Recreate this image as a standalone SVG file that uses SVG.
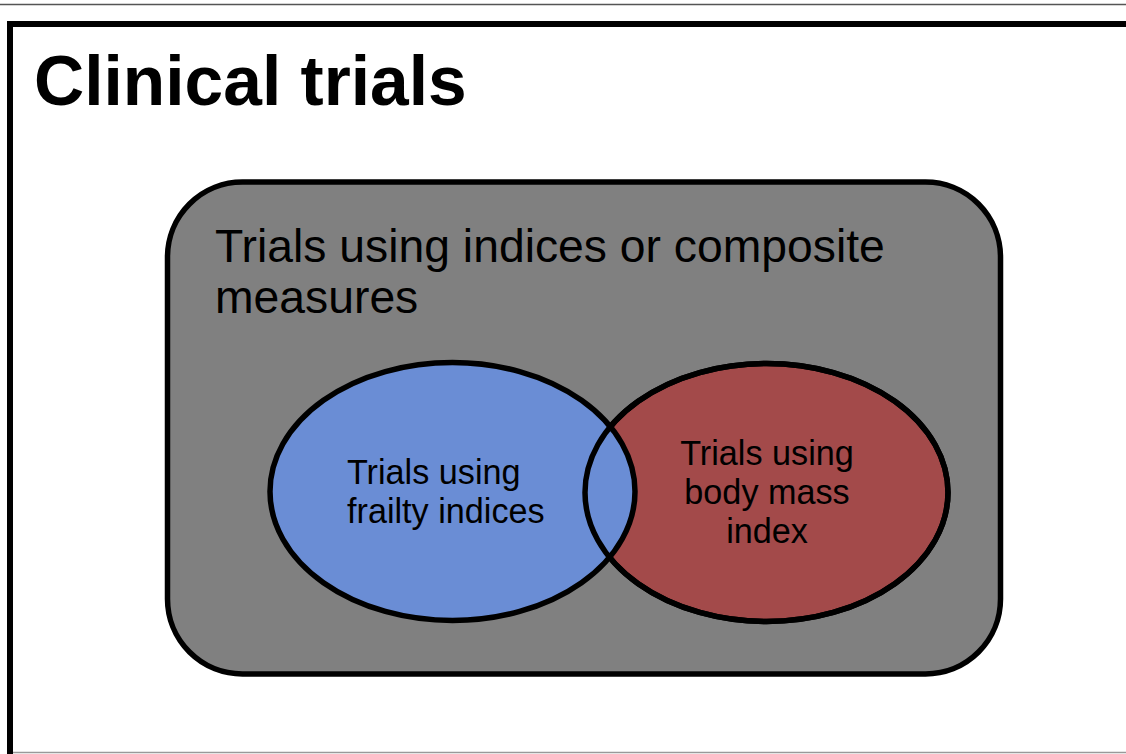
<svg xmlns="http://www.w3.org/2000/svg" width="1126" height="754" viewBox="0 0 1126 754">
  <style>
    .title { font-family: "Liberation Sans", Arial, sans-serif; font-weight: bold; font-size: 69.5px; fill: #000; }
    .label { font-family: "Liberation Sans", Arial, sans-serif; fill: #000; }
    .big { font-size: 46.3px; }
    .small { font-size: 34.2px; }
    .outline { stroke: #000; stroke-width: 5.5; }
  </style>
  <rect x="0" y="0" width="1126" height="754" fill="#fff"/>
  <!-- page rules -->
  <line x1="0" y1="4.5" x2="1126" y2="4.5" stroke="#555" stroke-width="1.3"/>
  <line x1="12" y1="752.5" x2="1126" y2="752.5" stroke="#999" stroke-width="1.6"/>
  <!-- outer frame -->
  <g id="frame">
    <path d="M10,754 V24 H1126" fill="none" stroke="#000" stroke-width="6"/>
    <text class="title" x="34" y="105">Clinical trials</text>
  </g>
  <!-- composite measures set -->
  <g id="composite">
    <rect x="167.5" y="182" width="833" height="492" rx="75" ry="75" fill="#808080" class="outline"/>
    <text class="label big" x="215" y="262">Trials using indices or composite</text>
    <text class="label big" x="215" y="313">measures</text>
  </g>
  <!-- body mass index set -->
  <g id="bmi">
    <ellipse id="bmi-shape" cx="766.5" cy="492.5" rx="181.5" ry="129" fill="#a34a4a" class="outline"/>
    <text class="label small" text-anchor="middle" x="767" y="465">Trials using</text>
    <text class="label small" text-anchor="middle" x="767" y="504">body mass</text>
    <text class="label small" text-anchor="middle" x="767" y="543">index</text>
  </g>
  <!-- frailty indices set -->
  <g id="frailty">
    <ellipse cx="452.5" cy="491.5" rx="182.5" ry="129" fill="#6a8dd5" class="outline"/>
    <text class="label small" x="347" y="484">Trials using</text>
    <text class="label small" x="347" y="523">frailty indices</text>
  </g>
  <!-- overlap outline -->
  <g id="connectors">
    <ellipse cx="766.5" cy="492.5" rx="181.5" ry="129" fill="none" class="outline"/>
  </g>
</svg>
